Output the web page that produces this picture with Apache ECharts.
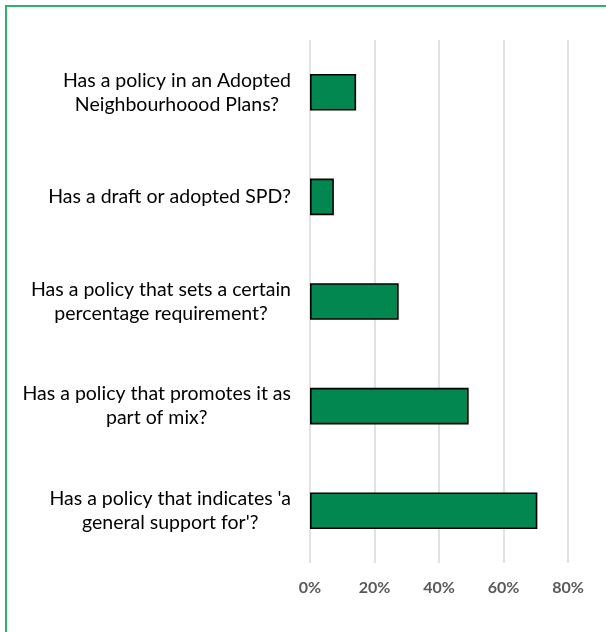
<!DOCTYPE html>
<html>
<head>
<meta charset="utf-8">
<script src="https://cdn.jsdelivr.net/npm/echarts@6/dist/echarts.min.js"></script>
<style>
html,body{margin:0;padding:0;background:#fff;overflow:hidden;width:606px;height:632px;}
#frame{position:absolute;left:5px;top:5px;width:601px;height:627px;border-left:2px solid #2fb36c;border-top:2px solid #2fb36c;box-sizing:border-box;}
#chart{position:absolute;left:0;top:0;width:606px;height:632px;}
</style>
</head>
<body>
<div id="frame"></div>
<div id="chart"></div>
<script>
const categories = [
  "Has a policy in an Adopted\nNeighbourhoood Plans?",
  "Has a draft or adopted SPD?",
  "Has a policy that sets a certain\npercentage requirement?",
  "Has a policy that promotes it as\npart of mix?",
  "Has a policy that indicates 'a\ngeneral support for'?"
];
const percentValues = [14.3, 7.4, 27.5, 49.2, 70.5];
const axisMin = 0;
const axisMax = 80;
const axisStep = 20;

const chart = echarts.init(document.getElementById('chart'), null, {renderer: 'canvas'});
chart.setOption({
  animation: false,
  backgroundColor: 'transparent',
  grid: {left: 310, right: 38, top: 40, bottom: 69, containLabel: false},
  xAxis: {
    type: 'value',
    min: axisMin, max: axisMax, interval: axisStep,
    axisLine: {show: false},
    axisTick: {show: false},
    splitLine: {show: true, lineStyle: {color: '#d9d9d9', width: 1.5}},
    axisLabel: {
      formatter: '{value}%',
      color: '#595959',
      fontFamily: 'Lato',
      fontWeight: 'bold',
      fontSize: 16,
      margin: 17
    }
  },
  yAxis: {
    type: 'category',
    inverse: true,
    data: categories,
    axisLine: {show: false},
    axisTick: {show: false},
    splitLine: {show: false},
    axisLabel: {
      align: 'right',
      margin: 19,
      formatter: function (v) {
        return v.split('\n').map(function (s) { return '{c|' + s + '}'; }).join('\n');
      },
      rich: {
        c: {
          color: '#000000',
          fontFamily: 'Lato',
          fontSize: 19.5,
          lineHeight: 24,
          align: 'center'
        }
      }
    }
  },
  series: [{
    type: 'bar',
    data: percentValues,
    barCategoryGap: '65%',
    itemStyle: {color: '#038751', borderColor: '#000000', borderWidth: 1.6}
  }]
});
</script>
</body>
</html>
